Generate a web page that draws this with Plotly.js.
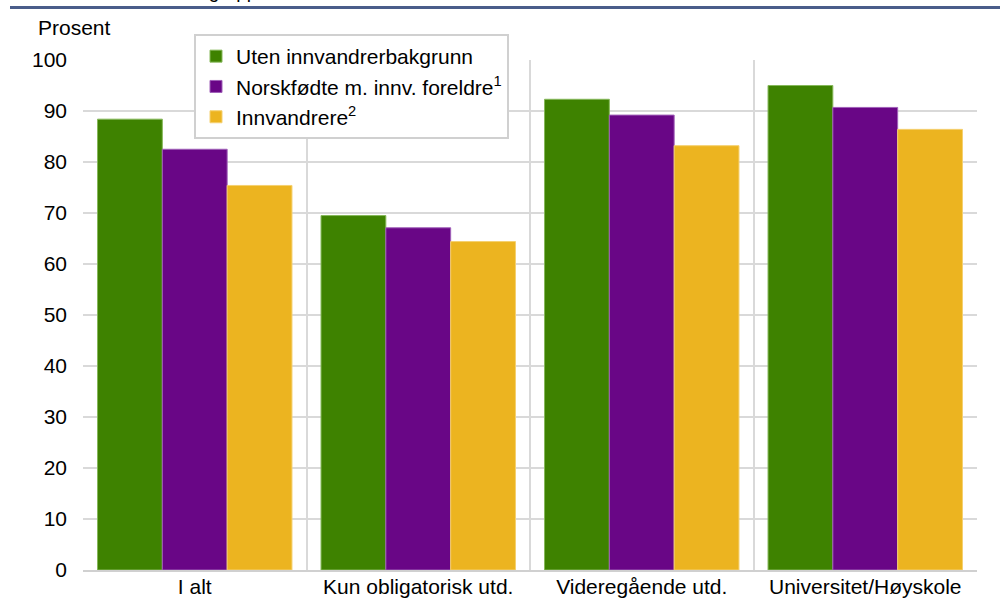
<!DOCTYPE html>
<html>
<head>
<meta charset="utf-8">
<script src="https://cdn.plot.ly/plotly-3.0.1.min.js"></script>
<style>html,body{margin:0;padding:0;background:#fff;}#chart{width:1000px;height:599px;}</style>
</head>
<body>
<div id="chart"></div>
<script>
const categories = ["I alt", "Kun obligatorisk utd.", "Videregående utd.", "Universitet/Høyskole"];
const seriesNames = ["Uten innvandrerbakgrunn", "Norskfødte m. innv. foreldre<sup>1</sup>", "Innvandrere<sup>2</sup>"];
const utenInnvandrerbakgrunn = [88.4, 69.5, 92.3, 95.0];
const norskfodte = [82.5, 67.1, 89.2, 90.7];
const innvandrere = [75.4, 64.4, 83.2, 86.4];
const yTicks = [0, 10, 20, 30, 40, 50, 60, 70, 80, 90, 100];

const colors = ["#3e8200", "#690686", "#ecb420"];
const edge = ["#86b85a", "#a060b8", "#f5d070"];
const values = [utenInnvandrerbakgrunn, norskfodte, innvandrere];

const FONT = "Liberation Sans, Arial, sans-serif";

const data = values.map((v, i) => ({
  type: "bar",
  name: seriesNames[i],
  x: categories,
  y: v,
  marker: { color: colors[i], line: { color: edge[i], width: 1 } },
  hoverinfo: "x+y+name"
}));

const layout = {
  width: 1000,
  height: 599,
  margin: { l: 83, r: 23, t: 60, b: 29, pad: 0 },
  paper_bgcolor: "#ffffff",
  plot_bgcolor: "#ffffff",
  font: { family: FONT, size: 21, color: "#000000" },
  barmode: "group",
  bargap: 0.13,
  bargroupgap: 0,
  showlegend: true,
  legend: {
    x: (194 - 83) / 894, y: (570 - 34) / 510,
    xanchor: "left", yanchor: "top",
    bgcolor: "#ffffff",
    bordercolor: "#d0d0d0",
    borderwidth: 2,
    font: { family: FONT, size: 21, color: "#000000" },
    itemwidth: 30,
    tracegroupgap: 0
  },
  xaxis: {
    type: "category",
    tickson: "boundaries",
    showgrid: true,
    gridcolor: "#d9d9d9",
    gridwidth: 2,
    showline: true,
    linecolor: "#d0d0d0",
    linewidth: 2,
    ticks: "",
    ticklabelstandoff: -3,
    tickfont: { family: FONT, size: 21, color: "#000000" },
    automargin: false,
    fixedrange: true
  },
  yaxis: {
    range: [0, 100],
    tickvals: yTicks,
    ticktext: yTicks.map(String),
    showgrid: true,
    gridcolor: "#d9d9d9",
    gridwidth: 2,
    zeroline: false,
    showline: false,
    ticks: "",
    ticklabelstandoff: 15,
    tickfont: { family: FONT, size: 21, color: "#000000" },
    automargin: false,
    fixedrange: true
  },
  shapes: [
    { type: "line", xref: "paper", yref: "paper",
      x0: (10 - 83) / 894, x1: (1000 - 83) / 894,
      y0: (570 - 7.5) / 510, y1: (570 - 7.5) / 510,
      line: { color: "#4a5d8a", width: 3 } }
  ],
  annotations: [
    { text: "Prosent", xref: "paper", yref: "paper",
      x: (36 - 83) / 894, y: (570 - 27) / 510,
      xanchor: "left", yanchor: "middle", showarrow: false,
      font: { family: FONT, size: 21, color: "#000000" } },
    { text: "innvandrergruppe", xref: "paper", yref: "paper",
      x: (117 - 83) / 894, y: (570 + 8.5) / 510,
      xanchor: "left", yanchor: "middle", showarrow: false,
      font: { family: FONT, size: 19, color: "#000000" } }
  ]
};

Plotly.newPlot("chart", data, layout, { displayModeBar: false, staticPlot: true });
</script>
</body>
</html>
